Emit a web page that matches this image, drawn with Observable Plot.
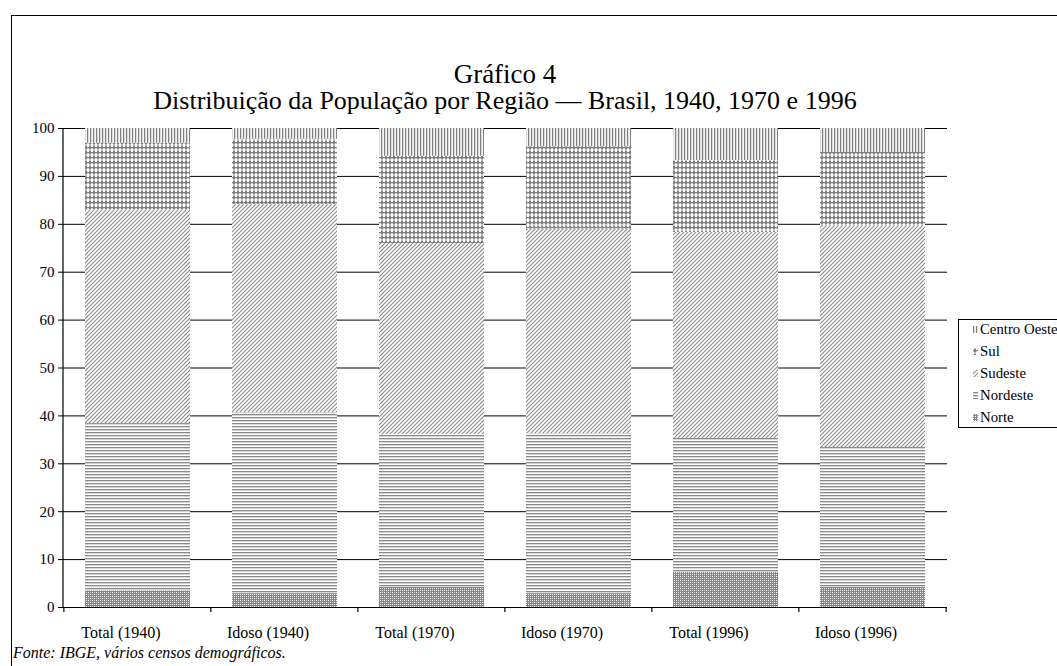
<!DOCTYPE html>
<html><head><meta charset="utf-8">
<script src="https://cdn.jsdelivr.net/npm/d3@7"></script>
<script src="https://cdn.jsdelivr.net/npm/@observablehq/plot@0.6"></script>
<style>
body{margin:0;background:#fff;font-family:"Liberation Serif","Tinos","Times New Roman","DejaVu Serif",serif;}
#wrap{position:relative;width:1057px;height:666px;overflow:hidden;background:#fff;}
#frame{position:absolute;left:11px;top:15px;width:1100px;height:700px;border:1.5px solid #000;box-sizing:border-box;}
.t{position:absolute;left:0;width:1010px;text-align:center;color:#000;font-size:26px;line-height:24px;height:24px;}
#chart{position:absolute;left:0;top:120px;}
#legend{position:absolute;left:958px;top:319px;width:130px;height:109px;border:1px solid #000;box-sizing:border-box;background:#fff;font-size:14.8px;}
#legend .row{position:absolute;left:14px;height:18px;display:flex;align-items:center;white-space:nowrap;}
#legend svg{margin-right:2px;}
#src{position:absolute;left:13px;top:645px;font-style:italic;font-size:16px;line-height:1;}
</style></head>
<body>
<div id="wrap">
<div id="frame"></div>
<div class="t" style="top:62px;font-size:27px">Gráfico 4</div>
<div class="t" style="top:89px">Distribuição da População por Região — Brasil, 1940, 1970 e 1996</div>
<div id="chart"></div>
<div id="legend"></div>
<div id="src">Fonte: IBGE, vários censos demográficos.</div>
</div>
<script>
const categories = ["Total (1940)","Idoso (1940)","Total (1970)","Idoso (1970)","Total (1996)","Idoso (1996)"];
const regions = ["Norte","Nordeste","Sudeste","Sul","Centro Oeste"];
const norte      = [3.5, 2.9, 4.2, 2.9, 7.3, 4.2];
const nordeste   = [34.9, 37.8, 31.9, 33.4, 28.0, 29.2];
const sudeste    = [44.5, 43.4, 39.9, 42.7, 43.0, 46.1];
const sul        = [14.0, 13.7, 18.2, 17.2, 15.0, 15.5];
const centroOeste= [3.1, 2.2, 5.8, 3.8, 6.7, 5.0];
const yTicks = [0,10,20,30,40,50,60,70,80,90,100];

const series = {"Norte":norte,"Nordeste":nordeste,"Sudeste":sudeste,"Sul":sul,"Centro Oeste":centroOeste};
const data = [];
categories.forEach((c,i)=>regions.forEach(r=>data.push({cat:c,region:r,value:series[r][i]})));

const patIds = {"Norte":"p-norte","Nordeste":"p-nordeste","Sudeste":"p-sudeste","Sul":"p-sul","Centro Oeste":"p-co"};
const G = "#808080";
const defsHTML = `
<pattern id="p-norte" width="4" height="4" patternUnits="userSpaceOnUse">
  <rect width="4" height="4" fill="#868686"/>
  <rect x="0" y="0" width="1" height="1" fill="#fff"/>
  <rect x="2" y="2" width="1" height="1" fill="#fff"/>
  <rect x="0" y="2" width="1" height="1" fill="#ddd"/>
  <rect x="2" y="0" width="1" height="1" fill="#ddd"/>
</pattern>
<pattern id="p-nordeste" width="4" height="3" patternUnits="userSpaceOnUse">
  <rect width="4" height="3" fill="#fff"/>
  <rect x="0" y="0" width="4" height="1" fill="#8a8a8a"/>
  <rect x="0" y="1" width="4" height="0.6" fill="#bbb"/>
</pattern>
<pattern id="p-sudeste" width="4" height="4" patternUnits="userSpaceOnUse">
  <rect width="4" height="4" fill="#fff"/>
  <path d="M-1,1 L1,-1 M0,4 L4,0 M3,5 L5,3" stroke="#8a8a8a" stroke-width="1.1"/>
</pattern>
<pattern id="p-sul" width="4" height="5" patternUnits="userSpaceOnUse">
  <rect width="4" height="5" fill="#fff"/>
  <rect x="0" y="2" width="4" height="1.3" fill="${G}"/>
  <rect x="1" y="0.5" width="2" height="4" fill="${G}"/>
</pattern>
<pattern id="p-co" width="3" height="3" patternUnits="userSpaceOnUse">
  <rect width="3" height="3" fill="#f4f4f4"/>
  <rect x="0" y="0" width="1.2" height="3" fill="${G}"/>
</pattern>`;

const bandPI = 0.287, bandPO = 0.1435;

// axis line and tick marks at band boundaries, positioned with the scales
function boundaryTicks(index, scales, values, dims) {
  const x = scales.x, y = scales.y;
  const bw = x.bandwidth();
  const step = bw / (1 - bandPI);
  const gap = (step - bw) / 2;
  const xs = categories.map(c => x(c) - gap);
  xs.push(x(categories[categories.length-1]) + bw + gap);
  const y0 = y(0);
  const g = d3.create("svg:g");
  g.append("line").attr("x1", dims.marginLeft).attr("x2", dims.marginLeft)
    .attr("y1", y(100)).attr("y2", y0).attr("stroke", "#000").attr("stroke-width", 1.2);
  xs.forEach(v => g.append("line").attr("x1", v).attr("x2", v).attr("y1", y0).attr("y2", y0 + 5).attr("stroke", "#000").attr("stroke-width", 1.2));
  return g.node();
}

const FONT = '"Liberation Serif","Tinos","Times New Roman","DejaVu Serif",serif';
const plot = Plot.plot({
  width: 1057,
  height: 522,
  marginLeft: 63,
  marginRight: 110,
  marginTop: 8,
  marginBottom: 35,
  style: {fontFamily: FONT, fontSize: "15px", color: "#000", background: "transparent"},
  x: {domain: categories, paddingInner: bandPI, paddingOuter: bandPO, align: 0.5, label: null},
  y: {domain: [0, 100], label: null},
  fill: {type: "identity"},
  marks: [
    Plot.ruleY(yTicks.filter(d => d > 0), {stroke: "#000", strokeWidth: 1}),
    Plot.barY(data, {x: "cat", y: "value", fill: d => `url(#${patIds[d.region]})`, z: "region", order: regions}),
    Plot.ruleY([0], {stroke: "#000", strokeWidth: 1.2}),
    Plot.axisY({ticks: yTicks, tickSize: 5, tickPadding: 4, tickFormat: d => String(d), stroke: "#000", fontSize: 15}),
    Plot.axisX({tickSize: 0, tickPadding: 19, fontSize: 16, dx: -17}),
    boundaryTicks
  ]
});
const svg = d3.select(plot);
svg.insert("defs", ":first-child").html(defsHTML);
document.getElementById("chart").appendChild(plot);

// legend (top to bottom: reverse stacking order)
const legend = document.getElementById("legend");
regions.slice().reverse().forEach((r, i) => {
  const row = document.createElement("div");
  row.className = "row";
  row.style.top = (0 + i * 22.2) + "px";
  row.innerHTML = `<svg width="5" height="7"><rect width="5" height="7" fill="url(#${patIds[r]})"/></svg><span>${r}</span>`;
  legend.appendChild(row);
});
</script>
</body></html>
